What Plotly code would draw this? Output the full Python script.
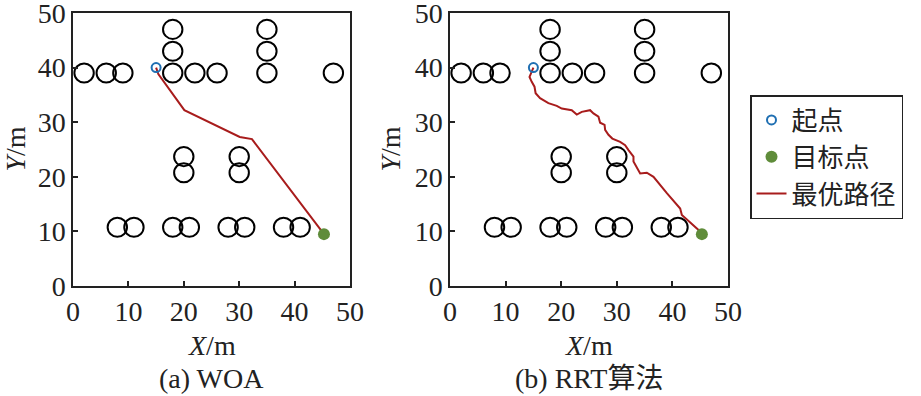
import plotly.graph_objects as go

# Obstacle centres (m) and radius
obs_x = [2, 6, 9, 18, 22, 26, 35, 47, 18, 18, 35, 35, 20, 20, 30, 30, 8, 11, 18, 21, 28, 31, 38, 41]
obs_y = [39, 39, 39, 39, 39, 39, 39, 39, 43, 47, 43, 47, 23.7, 20.75, 23.7, 20.75,
         10.75, 10.75, 10.75, 10.75, 10.75, 10.75, 10.75, 10.75]
obs_r = 1.75

start_xy = (15, 40)
goal_xy = (45.3, 9.5)

# WOA path
woa_x = [15, 15.4, 20.1, 30.1, 32.3, 45.3]
woa_y = [40, 38.8, 32.2, 27.3, 26.9, 9.5]

# RRT path
rrt_x = [15, 14.6, 14.3, 14.7, 15.2, 15.4, 16.2, 17.7, 19.2, 20.1, 21.9, 22.8, 23.7, 25.2, 25.8,
         26.7, 27.0, 27.8, 27.9, 28.5, 29.2, 30.6, 31.5, 32.1, 33.0, 33.0, 34.2, 35.4, 36.6,
         39.0, 41.4, 41.7, 44.7, 45.3]
rrt_y = [40, 39.0, 38.3, 37.4, 36.5, 35.3, 34.4, 33.5, 33.0, 32.5, 32.2, 31.4, 31.9, 32.2, 31.6,
         31.0, 29.9, 29.5, 28.6, 27.7, 27.0, 26.4, 25.8, 24.9, 23.7, 22.8, 20.6, 20.75, 20.0,
         17.0, 14.2, 13.0, 10.25, 9.5]

ticks = [0, 10, 20, 30, 40, 50]
subtitles = ["(a) WOA", "(b) RRT算法"]
legend_names = ["起点", "目标点", "最优路径"]

W, H = 921, 396
serif = "Liberation Serif, Noto Sans CJK SC, serif"
path_col = "#a81c1c"
start_col = "#1f6fb2"
goal_col = "#5f8c3a"

fig = go.Figure()

panels = [("x", "y", woa_x, woa_y), ("x2", "y2", rrt_x, rrt_y)]
for i, (xa, ya, px, py) in enumerate(panels):
    show = i == 0
    fig.add_trace(go.Scatter(x=px, y=py, mode="lines", xaxis=xa, yaxis=ya,
                             line=dict(color=path_col, width=2),
                             name=legend_names[2], showlegend=False))
    fig.add_trace(go.Scatter(x=[start_xy[0]], y=[start_xy[1]], mode="markers", xaxis=xa, yaxis=ya,
                             marker=dict(symbol="circle-open", size=9, color=start_col,
                                         line=dict(width=2, color=start_col)),
                             name=legend_names[0], showlegend=show, legendrank=1))
    fig.add_trace(go.Scatter(x=[goal_xy[0]], y=[goal_xy[1]], mode="markers", xaxis=xa, yaxis=ya,
                             marker=dict(symbol="circle", size=12, color=goal_col),
                             name=legend_names[1], showlegend=show, legendrank=2))
    if show:
        fig.add_trace(go.Scatter(x=[None], y=[None], mode="lines", xaxis=xa, yaxis=ya,
                                 line=dict(color=path_col, width=2),
                                 name=legend_names[2], showlegend=True, legendrank=3))
    for cx, cy in zip(obs_x, obs_y):
        fig.add_shape(type="circle", xref=xa, yref=ya,
                      x0=cx - obs_r, x1=cx + obs_r, y0=cy - obs_r, y1=cy + obs_r,
                      line=dict(color="black", width=2), layer="below")

x_doms = [(73 / W, 350 / W), (450 / W, 728 / W)]
y_dom = (1 - 286 / H, 1 - 13 / H)

axis_common = dict(range=[0, 50], tickvals=ticks, ticktext=[str(t) for t in ticks],
                   ticks="inside", ticklen=5, tickwidth=1.5, tickcolor="#222",
                   showline=True, linecolor="#222", linewidth=1.5, mirror=True,
                   showgrid=False, zeroline=False, automargin=False,
                   ticklabeloverflow="allow",
                   tickfont=dict(family=serif, size=28, color="#222"))

layout = dict(
    width=W, height=H,
    margin=dict(l=0, r=0, t=0, b=0, autoexpand=False),
    paper_bgcolor="white", plot_bgcolor="white",
    showlegend=True,
    legend=dict(x=750 / W, y=1 - 95 / H, xanchor="left", yanchor="top",
                bordercolor="#222", borderwidth=1.5, bgcolor="white",
                font=dict(family="Noto Sans CJK SC", size=26, color="#222"),
                tracegroupgap=0, itemwidth=30),
)
layout["xaxis"] = dict(domain=x_doms[0], anchor="y", **axis_common)
layout["yaxis"] = dict(domain=y_dom, anchor="x", **axis_common)
layout["xaxis2"] = dict(domain=x_doms[1], anchor="y2", **axis_common)
layout["yaxis2"] = dict(domain=y_dom, anchor="x2", **axis_common)
fig.update_layout(**layout)

annots = []
for i, (x0, x1) in enumerate(x_doms):
    xc = (x0 + x1) / 2
    annots.append(dict(text="<i>X</i>/m", x=xc, y=1 - 345 / H, xref="paper", yref="paper",
                       showarrow=False, xanchor="center", yanchor="middle",
                       font=dict(family=serif, size=28, color="#222")))
    annots.append(dict(text=subtitles[i], x=xc, y=1 - 378 / H, xref="paper", yref="paper",
                       showarrow=False, xanchor="center", yanchor="middle",
                       font=dict(family=serif, size=28, color="#222")))
    ytx = [15, 390][i]
    annots.append(dict(text="<i>Y</i>/m", x=ytx / W, y=(y_dom[0] + y_dom[1]) / 2,
                       xref="paper", yref="paper", textangle=-90,
                       showarrow=False, xanchor="center", yanchor="middle",
                       font=dict(family=serif, size=28, color="#222")))
fig.update_layout(annotations=annots)

fig.write_html("out.html", config={"displayModeBar": False},
               post_script="document.body.style.margin='0';document.body.style.overflow='hidden';")
